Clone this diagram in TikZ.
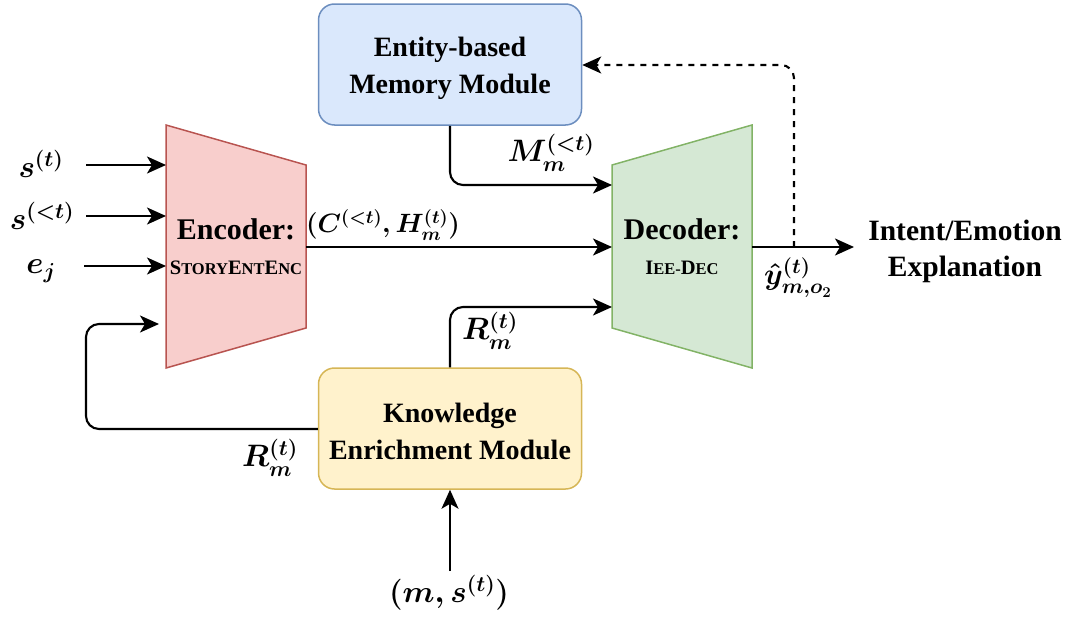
\RequirePackage{fix-cm}
\documentclass[tikz,border=0pt]{standalone}
\usepackage[no-math]{fontspec}
\setmainfont{Liberation Serif}
\usetikzlibrary{arrows.meta}

\definecolor{memfill}{HTML}{DAE8FC}
\definecolor{memdraw}{HTML}{6C8EBF}
\definecolor{kfill}{HTML}{FFF2CC}
\definecolor{kdraw}{HTML}{D6B656}
\definecolor{encfill}{HTML}{F8CECC}
\definecolor{encdraw}{HTML}{B85450}
\definecolor{decfill}{HTML}{D5E8D4}
\definecolor{decdraw}{HTML}{82B366}

% fake small capitals: large initial, smaller upper-case rest
\newcommand{\scbig}[1]{{\fontsize{20.5}{20.5}\selectfont #1}}
\newcommand{\scsmall}[1]{{\fontsize{16.5}{16.5}\selectfont #1}}

\tikzset{
  modbox/.style={draw, line width=1.5pt, rounded corners=16pt, align=center,
    minimum width=263pt, minimum height=121pt, inner sep=0pt},
  modtext/.style={align=center, inner sep=0pt, font=\bfseries\fontsize{28}{36.5}\selectfont},
  trapz/.style={line width=1.5pt},
  blocktext/.style={align=center, inner sep=0pt, font=\bfseries\fontsize{30}{38}\selectfont},
  mathlbl/.style={inner sep=0pt, font=\boldmath\fontsize{31}{36}\selectfont},
  outlbl/.style={align=center, inner sep=0pt, font=\bfseries\fontsize{29.5}{36}\selectfont},
  arr/.style={line width=2.1pt, rounded corners=13pt,
    -{Stealth[length=19pt,width=17pt,inset=5pt]}},
  dasharr/.style={arr, dash pattern=on 6pt off 6pt},
}

\begin{document}
\begin{tikzpicture}[x=1pt,y=-1pt]
\useasboundingbox (0,0) rectangle (1068,616);

% memory and knowledge modules
\node[modbox, fill=memfill, draw=memdraw] (mem) at (450,64.5) {};
\node[modtext] (memtxt) at (450,68.5) {Entity-based\\Memory Module};
\node[modbox, fill=kfill, draw=kdraw] (know) at (450,428.5) {};
\node[modtext] (knowtxt) at (450,431.5) {Knowledge\\Enrichment Module};

% encoder and decoder trapezoids
\draw[trapz, fill=encfill, draw=encdraw] (166,125) -- (306,165) -- (306,328) -- (166,368) -- cycle;
\draw[trapz, fill=decfill, draw=decdraw] (612,165) -- (752,125) -- (752,368) -- (612,328) -- cycle;
\node[blocktext] (enc) at (236,247) {Encoder:\\[-3pt]
  \scbig{S}\scsmall{TORY}\scbig{E}\scsmall{NT}\scbig{E}\scsmall{NC}};
\node[blocktext] (dec) at (682,247) {Decoder:\\[-3pt]
  \scbig{I}\scsmall{EE-}\scbig{D}\scsmall{EC}};

% encoder inputs
\node[mathlbl] (st) at (41,164) {$s^{(t)}$};
\node[mathlbl] (slt) at (42,216) {$s^{(<t)}$};
\node[mathlbl] (ej) at (41,271) {$e_j$};
\coordinate (st0) at (86,165);   \coordinate (st1) at (166,165);
\coordinate (slt0) at (86,216);  \coordinate (slt1) at (166,216);
\coordinate (ej0) at (84,266);   \coordinate (ej1) at (166,266);
\draw[arr] (st0) -- (st1);
\draw[arr] (slt0) -- (slt1);
\draw[arr] (ej0) -- (ej1);

% knowledge fed back to the encoder
\coordinate (encin) at (159,324);
\draw[arr] (know.west |- 0,429) -- (86,429) -- (86,324) -- (encin);
\node[mathlbl] (rlow) at (270,458) {$R_m^{(t)}$};

% encoder to decoder
\coordinate (encout) at (306,247);
\coordinate (decin) at (612,247);
\draw[arr] (encout) -- (decin);
\node[mathlbl, font=\boldmath\fontsize{26.5}{32}\selectfont] (ch) at (383,225) {$(C^{(<t)},H_m^{(t)})$};

% memory to decoder
\coordinate (decm) at (612,185);
\draw[arr] (mem.south -| 450,0) -- (450,185) -- (decm);
\node[mathlbl] (mlbl) at (551,153) {$M_m^{(<t)}$};

% knowledge to decoder
\coordinate (deck) at (612,307);
\draw[arr] (know.north) -- (450,307) -- (deck);
\node[mathlbl] (rup) at (490,331) {$R_m^{(t)}$};

% decoder output
\coordinate (decout) at (752,247);
\coordinate (outtip) at (854,247);
\draw[arr] (decout) -- (outtip);
\node[outlbl] (expl) at (965,251) {Intent/Emotion\\Explanation};
\node[mathlbl, font=\boldmath\fontsize{30}{36}\selectfont] (yhat) at (798,278) {$\hat{y}_{m,o_2}^{(t)}$};

% memory update (dashed)
\coordinate (tap) at (794,247);
\draw[dasharr] (tap) -- (794,65) -- (mem.east |- 0,65);

% knowledge input
\node[mathlbl] (ms) at (449,593) {$(m,s^{(t)})$};
\coordinate (ms0) at (450,571);
\draw[arr] (ms0) -- (know.south);
\end{tikzpicture}
\end{document}
